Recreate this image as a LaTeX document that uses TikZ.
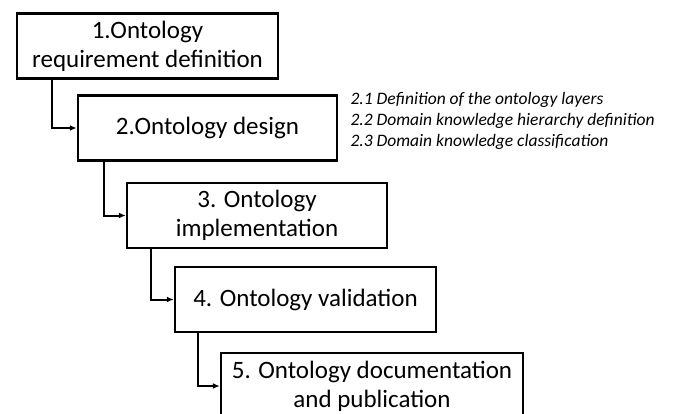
\documentclass[tikz,border=0pt]{standalone}
\usepackage{fontspec}
\setmainfont{Carlito}
\usetikzlibrary{arrows.meta,positioning}

\tikzset{
  stage/.style={draw,line width=2.5pt,align=center,minimum height=65pt,inner sep=0pt,
    font=\fontsize{25}{29}\selectfont},
  link/.style={-{Latex[length=7pt,width=6pt]},line width=2pt},
}

\begin{document}
\begin{tikzpicture}[x=1pt,y=-1pt]
\useasboundingbox (0,0) rectangle (674,414);
\clip (0,0) rectangle (674,414);

% the five stages
\node[stage,minimum width=261pt] (s1) at (147.5,46) {1.Ontology\\requirement definition};
\node[stage,minimum width=259pt] (s2) at (207.5,128) {2.Ontology design};
\node[stage,minimum width=260pt] (s3) at (257,215.5) {3. Ontology\\implementation};
\node[stage,minimum width=261pt] (s4) at (305.5,299.5) {4. Ontology validation};
\node[stage,minimum width=302pt,minimum height=66pt] (s5) at (372,386) {5. Ontology documentation\\and publication};

% sub-steps of the design
\node[anchor=west,align=left,font=\itshape\fontsize{17.5}{21}\selectfont] (sub) at (347,121)
  {2.1 Definition of the ontology layers\\2.2 Domain knowledge hierarchy definition\\2.3 Domain knowledge classification};

\draw[link] (s1.south west) ++(36,0) |- (s2.west);
\draw[link] (s2.south west) ++(27,0) |- (s3.west);
\draw[link] (s3.south west) ++(25,0) |- (s4.west);
\draw[link] (s4.south west) ++(24,0) |- (s5.west);
\end{tikzpicture}
\end{document}
